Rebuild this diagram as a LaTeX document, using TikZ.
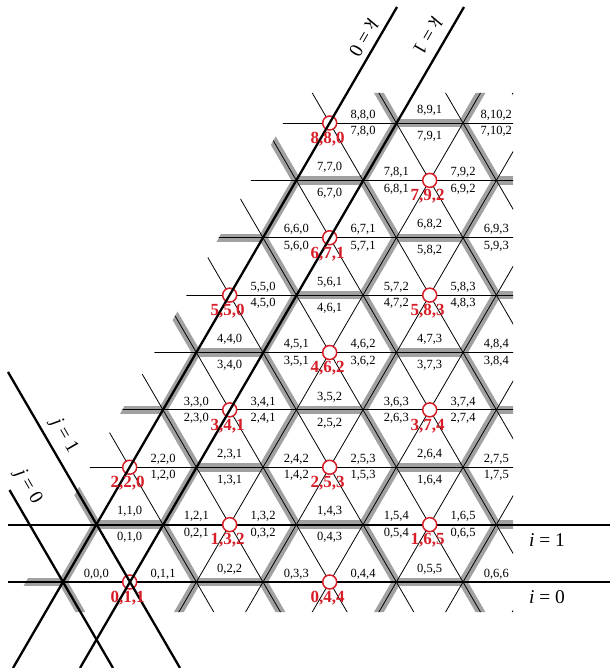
\documentclass[tikz,border=0pt]{standalone}
\usepackage{fontspec}
\setmainfont{Liberation Serif}
\begin{document}
\begin{tikzpicture}[x=1pt,y=-1pt]
\definecolor{band}{gray}{0.63}
\definecolor{mred}{RGB}{215,30,40}
\tikzset{
  thinline/.style={line width=0.8pt, black},
  thickline/.style={line width=2.3pt, black},
  grayband/.style={line width=8.5pt, band, line cap=round},
  trilabel/.style={font=\fontsize{12.5}{13}\selectfont, inner sep=0pt},
  redlabel/.style={font=\fontsize{17}{18}\selectfont\bfseries, text=mred, inner sep=0pt},
  markcircle/.style={circle, draw=mred, line width=1.5pt, fill=white, minimum size=14pt, inner sep=0pt},
  axislabel/.style={font=\fontsize{19.5}{20}\selectfont, inner sep=0pt},
}
\useasboundingbox (0,0) rectangle (610,668);
\fill[white] (0,0) rectangle (610,668);
\def\A{66.67}
\def\H{57.375}
% lattice (clipped)
\begin{scope}
  \clip (9,612) -- (513,612) -- (513,93) -- (300,93) -- cycle;
  % gray hexagon bands
  \foreach \i in {-1,...,9}{
    \foreach \n in {-6,...,9}{
      \pgfmathtruncatemacro\r{mod(\i-\n+300,3)}
      \pgfmathsetmacro\vx{63+\A*\n+\A/2*\i}
      \pgfmathsetmacro\vy{582-\H*\i}
      \ifnum\r=1
        \draw[grayband] (\vx,\vy) -- ++(\A,0);
        \draw[grayband] (\vx,\vy) -- ++({-\A/2},{-\H});
      \fi
      \ifnum\r=0
        \draw[grayband] (\vx,\vy) -- ++({\A/2},{-\H});
      \fi
    }
  }
  % thin lattice lines
  \foreach \i in {0,...,9}{
    \draw[thinline] (0,{582-\H*\i}) -- (610,{582-\H*\i});
  }
  \foreach \k in {-1,...,12}{
    \draw[thinline] ({63+\A*\k-\A/2},{582+\H}) -- ++({\A*5.5},{-\H*11});
  }
  \foreach \j in {0,...,18}{
    \draw[thinline] ({63+\A*\j+\A/2},{582+\H}) -- ++({-\A*5.5},{-\H*11});
  }
\end{scope}
% thick horizontal lines
\coordinate (i0a) at (8,582);
\coordinate (i0b) at (610,582);
\coordinate (i1a) at (8,525);
\coordinate (i1b) at (610,525);
\draw[thickline] (i0a) -- (i0b);
\draw[thickline] (i1a) -- (i1b);
% marked vertices
\foreach \i in {0,...,8}{
  \foreach \n in {0,...,7}{
    \pgfmathtruncatemacro\r{mod(\i-\n+300,3)}
    \pgfmathsetmacro\vx{63+\A*\n+\A/2*\i}
    \pgfmathsetmacro\vy{582-\H*\i}
    \pgfmathtruncatemacro\ok{\vx<513}
    \ifnum\r=2 \ifnum\ok=1
      \node[markcircle] (c-\i-\n) at (\vx,\vy) {};
    \fi\fi
  }
}
% thick diagonal lines
\coordinate (j0a) at (9.5,490);
\coordinate (j0b) at (113,668);
\coordinate (j1a) at (8,372);
\coordinate (j1b) at (180,668);
\coordinate (k0a) at (397,7);
\coordinate (k0b) at (13,668);
\coordinate (k1a) at (464,7);
\coordinate (k1b) at (80,668);
\draw[thickline] (j0a) -- (j0b);
\draw[thickline] (j1a) -- (j1b);
\draw[thickline] (k0a) -- (k0b);
\draw[thickline] (k1a) -- (k1b);
% triangle labels
\foreach \i in {0,...,8}{
  \foreach \n in {0,...,7}{
    \pgfmathtruncatemacro\r{mod(\i-\n+300,3)}
    \pgfmathsetmacro\ux{63+\A*\n+\A/2*\i+\A/2}
    \pgfmathsetmacro\vy{582-\H*\i}
    \pgfmathtruncatemacro\ok{\ux<513}
    \pgfmathtruncatemacro\jj{\i+\n}
    \ifnum\ok=1
      \ifnum\r=1
        \node[trilabel] (u-\i-\n) at (\ux,{\vy-13}) {\i,\jj,\n};
      \else
        \node[trilabel] (u-\i-\n) at (\ux,{\vy-8}) {\i,\jj,\n};
      \fi
    \fi
  }
}
\foreach \i in {0,...,7}{
  \foreach \n in {0,...,7}{
    \pgfmathtruncatemacro\r{mod(\i-\n+300,3)}
    \pgfmathsetmacro\dx{63+\A*\n+\A/2*\i+\A}
    \pgfmathsetmacro\ty{582-\H*\i-\H}
    \pgfmathtruncatemacro\ok{\dx<513}
    \pgfmathtruncatemacro\jj{\i+\n+1}
    \ifnum\ok=1
      \ifnum\r=0
        \node[trilabel] (d-\i-\n) at (\dx,{\ty+13}) {\i,\jj,\n};
      \else
        \node[trilabel] (d-\i-\n) at (\dx,{\ty+8.5}) {\i,\jj,\n};
      \fi
    \fi
  }
}
% red vertex labels
\foreach \i in {0,...,8}{
  \foreach \n in {0,...,7}{
    \pgfmathtruncatemacro\r{mod(\i-\n+300,3)}
    \pgfmathsetmacro\vx{63+\A*\n+\A/2*\i}
    \pgfmathsetmacro\vy{582-\H*\i}
    \pgfmathtruncatemacro\ok{\vx<513}
    \pgfmathtruncatemacro\jj{\i+\n}
    \ifnum\r=2 \ifnum\ok=1
      \node[redlabel] (r-\i-\n) at ({\vx-2},{\vy+16}) {\i,\jj,\n};
    \fi\fi
  }
}
% axis labels
\node[axislabel] (li1) at (547,540) {\textit{i} = 1};
\node[axislabel] (li0) at (547,597) {\textit{i} = 0};
\node[axislabel, rotate=-60] (lj1) at (64,436) {\textit{j} = 1};
\node[axislabel, rotate=-60] (lj0) at (28,487) {\textit{j} = 0};
\node[axislabel, rotate=-120] (lk0) at (364,38) {\textit{k} = 0};
\node[axislabel, rotate=-120] (lk1) at (428,36) {\textit{k} = 1};
\end{tikzpicture}
\end{document}
